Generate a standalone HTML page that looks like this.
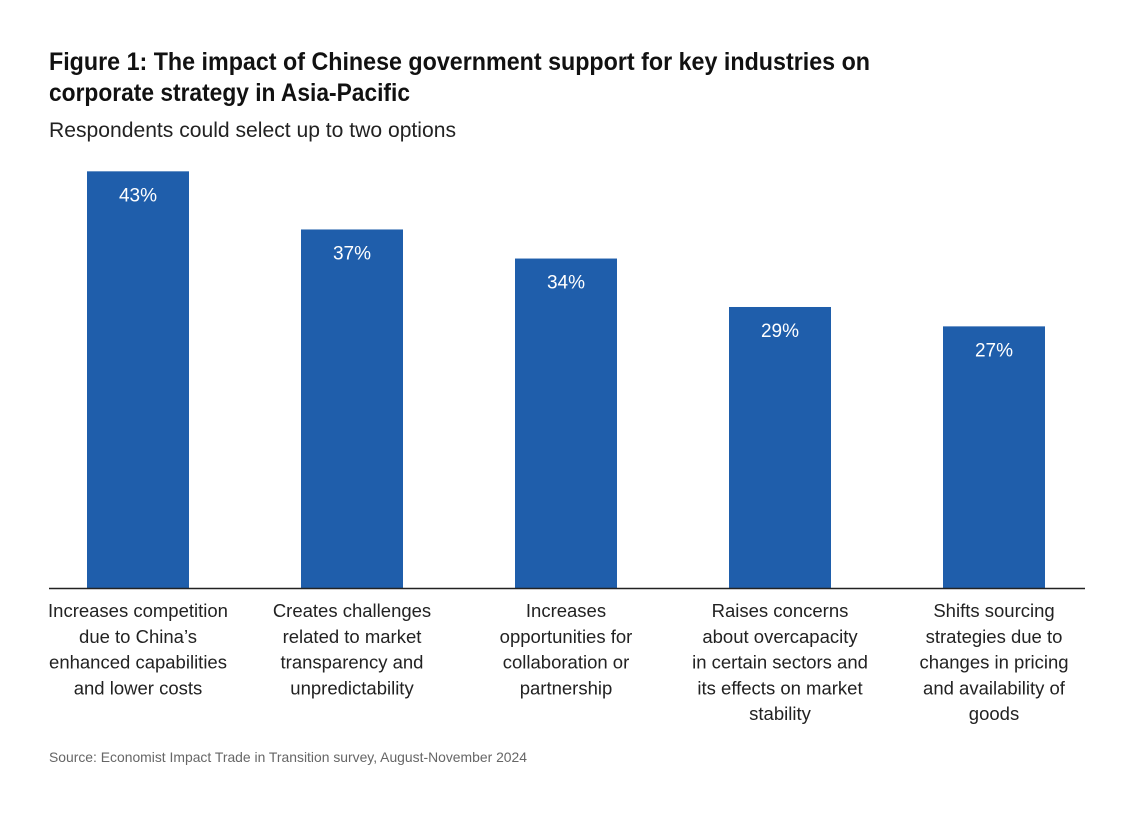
<!DOCTYPE html>
<html><head><meta charset="utf-8"><style>
body{margin:0;background:#fff;}
svg{display:block;font-family:"Liberation Sans",sans-serif;}
</style></head><body>
<svg id="chart" width="1134" height="817">
<text x="49" y="70" font-size="25" font-weight="bold" fill="#111" textLength="821" lengthAdjust="spacingAndGlyphs">Figure 1: The impact of Chinese government support for key industries on</text>
<text x="49" y="101" font-size="25" font-weight="bold" fill="#111" textLength="361" lengthAdjust="spacingAndGlyphs">corporate strategy in Asia-Pacific</text>
<text x="49" y="137" font-size="21" fill="#222" textLength="407" lengthAdjust="spacingAndGlyphs">Respondents could select up to two options</text>
<g id="bars"></g>
<line x1="49" x2="1085" y1="588.5" y2="588.5" stroke="#222" stroke-width="1.5"/>
<g id="labels"></g>
<text x="49" y="762" font-size="14" fill="#666" textLength="478" lengthAdjust="spacingAndGlyphs">Source: Economist Impact Trade in Transition survey, August-November 2024</text>
</svg>
<script>
const categories=[
["Increases competition","due to China’s","enhanced capabilities","and lower costs"],
["Creates challenges","related to market","transparency and","unpredictability"],
["Increases","opportunities for","collaboration or","partnership"],
["Raises concerns","about overcapacity","in certain sectors and","its effects on market","stability"],
["Shifts sourcing","strategies due to","changes in pricing","and availability of","goods"]];
const values=[43,37,34,29,27];
const NS="http://www.w3.org/2000/svg";
const baseY=588, pxPer=9.69, x0=87, step=214, bw=102;
const yScale=v=>baseY-v*pxPer;
const xScale=i=>x0+i*step;
const gb=document.getElementById('bars'), gl=document.getElementById('labels');
values.forEach((v,i)=>{
 const r=document.createElementNS(NS,'rect');
 
 
 r.setAttribute('x',xScale(i));r.setAttribute('y',yScale(v));
 r.setAttribute('width',bw);r.setAttribute('height',baseY-yScale(v));
 r.setAttribute('fill','#1f5eab');gb.appendChild(r);
 const t=document.createElementNS(NS,'text');
 
 
 t.setAttribute('x',xScale(i)+bw/2);t.setAttribute('y',yScale(v)+30);
 t.setAttribute('text-anchor','middle');t.setAttribute('font-size','19');t.setAttribute('fill','#fff');
 t.textContent=v+'%';gb.appendChild(t);
 categories[i].forEach((line,j)=>{
  const c=document.createElementNS(NS,'text');
  
  
  c.setAttribute('x',xScale(i)+bw/2);c.setAttribute('y',617+j*25.8);
  c.setAttribute('text-anchor','middle');c.setAttribute('font-size','18.5');c.setAttribute('fill','#222');
  c.textContent=line;gl.appendChild(c);
 });
});
</script>
</body></html>
